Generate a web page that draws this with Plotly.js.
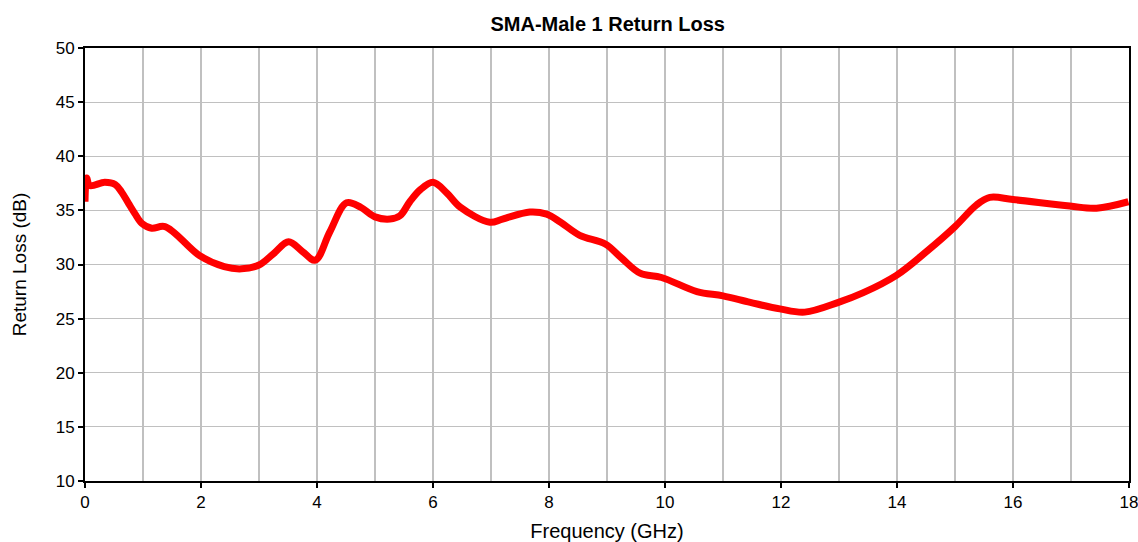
<!DOCTYPE html>
<html>
<head>
<meta charset="utf-8">
<script src="https://cdn.plot.ly/plotly-3.0.1.min.js"></script>
<style>html,body{margin:0;padding:0;background:#fff;}#chart{width:1138px;height:542px;}</style>
</head>
<body>
<div id="chart"></div>
<script>
const freqGHz = [0, 0.03, 0.08, 0.34, 0.52, 0.63, 0.75, 0.86, 0.98, 1.15, 1.38, 1.98, 2.4, 2.7, 3.0, 3.25, 3.51, 3.75, 3.97, 4.22, 4.51, 4.75, 5.0, 5.26, 5.43, 5.6, 5.78, 6.0, 6.24, 6.47, 6.98, 7.2, 7.67, 7.96, 8.2, 8.53, 8.97, 9.25, 9.57, 9.94, 10.55, 11.0, 11.47, 11.98, 12.41, 12.99, 13.42, 13.99, 14.51, 15.0, 15.37, 15.6, 16.0, 16.98, 17.44, 17.99];
const returnLossDB = [35.8, 38.0, 37.3, 37.6, 37.4, 36.7, 35.65, 34.7, 33.8, 33.35, 33.5, 30.8, 29.8, 29.6, 29.95, 31.0, 32.1, 31.2, 30.4, 33.0, 35.7, 35.3, 34.4, 34.2, 34.5, 35.8, 36.9, 37.6, 36.6, 35.3, 33.9, 34.2, 34.85, 34.65, 33.9, 32.7, 31.9, 30.6, 29.2, 28.8, 27.5, 27.1, 26.5, 25.9, 25.6, 26.5, 27.4, 29.0, 31.2, 33.5, 35.5, 36.2, 36.0, 35.4, 35.2, 35.8];

const gridColor = '#c0c0c0';
const fontFam = 'Liberation Sans, Arial, sans-serif';

Plotly.newPlot('chart', [{
  x: freqGHz,
  y: returnLossDB,
  type: 'scatter',
  mode: 'lines',
  line: {color: '#ff0000', width: 7, shape: 'spline', smoothing: 1},
  hoverinfo: 'skip'
}], {
  width: 1138,
  height: 542,
  margin: {l: 85, r: 9, t: 48, b: 61},
  paper_bgcolor: '#fff',
  plot_bgcolor: '#fff',
  showlegend: false,
  font: {family: fontFam, color: '#000', size: 17},
  title: {text: '<b>SMA-Male 1 Return Loss</b>', font: {size: 20, family: fontFam}, x: 0.534, xanchor: 'center', y: 0.956, yanchor: 'middle'},
  xaxis: {
    range: [0, 18],
    dtick: 2,
    tick0: 0,
    showgrid: true,
    gridcolor: gridColor,
    gridwidth: 2,
    minor: {dtick: 1, showgrid: true, gridcolor: gridColor, gridwidth: 2, ticks: ''},
    ticks: 'outside',
    ticklen: 5,
    tickwidth: 2,
    tickcolor: '#000',
    ticklabeloverflow: 'allow',
    showline: true,
    linecolor: '#000',
    linewidth: 2,
    mirror: true,
    zeroline: false,
    tickfont: {size: 17},
    title: {text: 'Frequency (GHz)', font: {size: 20}, standoff: 15}
  },
  yaxis: {
    range: [10, 50],
    dtick: 5,
    tick0: 10,
    showgrid: true,
    gridcolor: gridColor,
    gridwidth: 1,
    ticks: 'outside',
    ticklen: 5,
    tickwidth: 2,
    tickcolor: '#000',
    showline: true,
    linecolor: '#000',
    linewidth: 2,
    mirror: true,
    zeroline: false,
    tickfont: {size: 17},
    title: {text: 'Return Loss (dB)', font: {size: 19}, standoff: 24}
  }
}, {displayModeBar: false, staticPlot: true});
</script>
</body>
</html>
